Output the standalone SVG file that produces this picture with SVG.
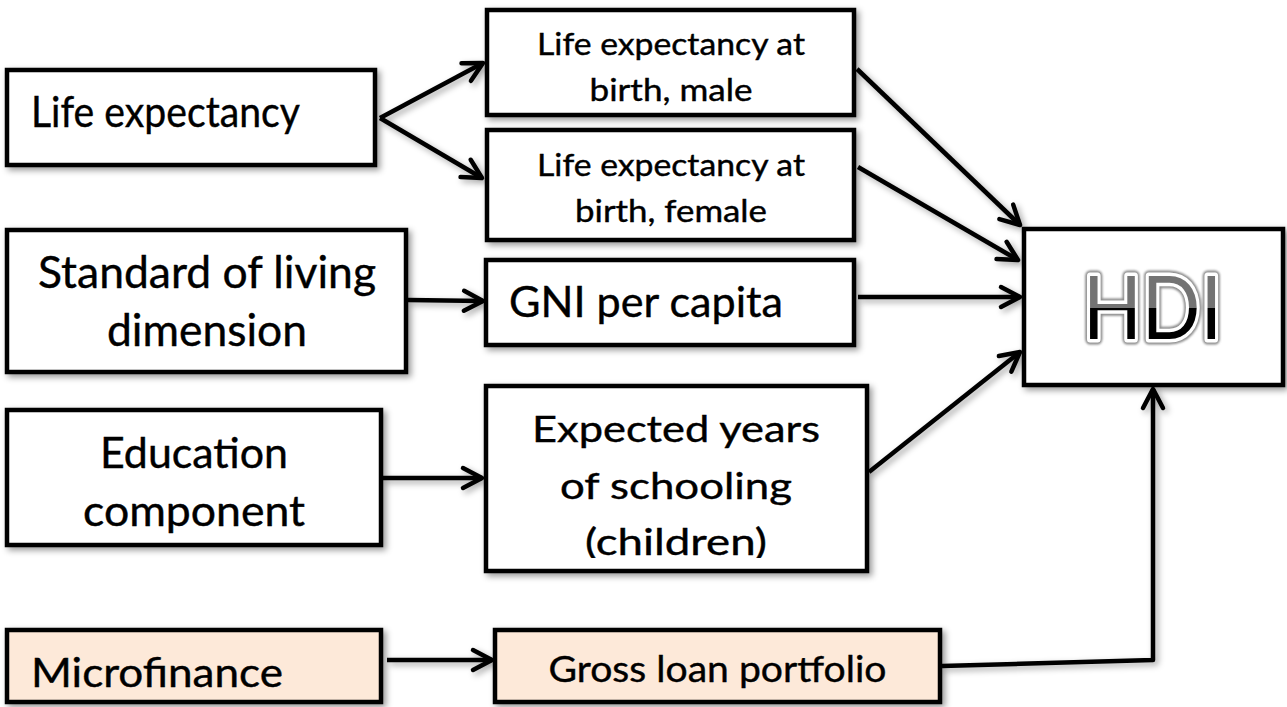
<svg xmlns="http://www.w3.org/2000/svg" width="1287" height="707" viewBox="0 0 1287 707">
<defs>
<style>
.box{fill:#fff;stroke:#000;stroke-width:4.5;filter:url(#sh)}
.peach{fill:#fde9d9}
.t{font-family:Lato,"Liberation Sans",sans-serif;fill:#000;stroke:#000;stroke-width:0.4}
.c{text-anchor:middle}
.conn path{fill:none;stroke:#000;stroke-width:4.5;stroke-linejoin:round;marker-end:url(#arr)}
</style>
<filter id="sh" x="-20%" y="-20%" width="140%" height="140%">
<feDropShadow dx="3" dy="3" stdDeviation="3" flood-color="#000" flood-opacity="0.4"/>
</filter>
<filter id="shl" filterUnits="userSpaceOnUse" x="0" y="0" width="1287" height="707">
<feDropShadow dx="3" dy="3" stdDeviation="3" flood-color="#000" flood-opacity="0.35"/>
</filter>
<filter id="glow" filterUnits="userSpaceOnUse" x="1000" y="240" width="287" height="130">
<feGaussianBlur stdDeviation="0.8"/>
</filter>
<marker id="arr" markerUnits="userSpaceOnUse" markerWidth="30" markerHeight="30" refX="0" refY="0" orient="auto" overflow="visible">
<path d="M-19 -10 L0 0 L-19 10" fill="none" stroke="#000" stroke-width="4.5" stroke-linecap="round" stroke-linejoin="round"/>
</marker>
<linearGradient id="hdig" gradientUnits="userSpaceOnUse" x1="0" y1="276" x2="0" y2="339">
<stop offset="0" stop-color="#737373"/>
<stop offset="0.5" stop-color="#737373"/>
<stop offset="0.5" stop-color="#000"/>
<stop offset="1" stop-color="#000"/>
</linearGradient>
<clipPath id="expclip"><rect x="486" y="386" width="381" height="172"/></clipPath>
</defs>

<g class="conn" id="connectors" filter="url(#shl)">
<path d="M380 118 L483 63"/>
<path d="M380 118 L482 178"/>
<path d="M408 300 L483 301"/>
<path d="M857 69 L1020 225"/>
<path d="M858 167 L1018 260"/>
<path d="M858 297 L1020 297"/>
<path d="M869 472 L1020 352"/>
<path d="M383 478 L482 478"/>
<path d="M387 660 L492 660"/>
<path d="M942 666 L1153 660 L1153 389"/>
</g>

<g id="life-expectancy">
<rect class="box" x="7" y="70" width="368" height="95"/>
<text class="t" x="31" y="127" font-size="43" textLength="269" lengthAdjust="spacingAndGlyphs">Life expectancy</text>
</g>

<g id="life-male">
<rect class="box" x="487" y="10" width="367" height="105"/>
<text class="t c" x="671" y="55" font-size="30" textLength="268" lengthAdjust="spacingAndGlyphs">Life expectancy at</text>
<text class="t c" x="671" y="101" font-size="30" textLength="163" lengthAdjust="spacingAndGlyphs">birth, male</text>
</g>

<g id="life-female">
<rect class="box" x="487" y="130" width="367" height="110"/>
<text class="t c" x="671" y="176" font-size="30" textLength="268" lengthAdjust="spacingAndGlyphs">Life expectancy at</text>
<text class="t c" x="671" y="222" font-size="30" textLength="192" lengthAdjust="spacingAndGlyphs">birth, female</text>
</g>

<g id="standard-of-living">
<rect class="box" x="7" y="230" width="399" height="142"/>
<text class="t c" x="207" y="288" font-size="44" textLength="338" lengthAdjust="spacingAndGlyphs">Standard of living</text>
<text class="t c" x="207" y="346" font-size="44" textLength="200" lengthAdjust="spacingAndGlyphs">dimension</text>
</g>

<g id="gni">
<rect class="box" x="486" y="260" width="368" height="85"/>
<text class="t" x="509" y="317" font-size="43" textLength="274" lengthAdjust="spacingAndGlyphs">GNI per capita</text>
</g>

<g id="education">
<rect class="box" x="7" y="410" width="374" height="135"/>
<text class="t c" x="194" y="468" font-size="42" textLength="188" lengthAdjust="spacingAndGlyphs">Education</text>
<text class="t c" x="194" y="526" font-size="42" textLength="222" lengthAdjust="spacingAndGlyphs">component</text>
</g>

<g id="expected-years">
<rect class="box" x="486" y="386" width="381" height="185"/>
<g clip-path="url(#expclip)">
<text class="t c" x="676" y="442" font-size="37" textLength="288" lengthAdjust="spacingAndGlyphs">Expected years</text>
<text class="t c" x="676" y="499" font-size="37" textLength="232" lengthAdjust="spacingAndGlyphs">of schooling</text>
<text class="t c" x="676" y="555" font-size="37" textLength="182" lengthAdjust="spacingAndGlyphs">(children)</text>
</g>
</g>

<g id="hdi">
<rect class="box" x="1024" y="229" width="259" height="156"/>
<text x="1152.5" y="339" font-family="Lato, 'Liberation Sans', sans-serif" font-size="88" text-anchor="middle" textLength="139" lengthAdjust="spacingAndGlyphs" fill="#8a8a8a" stroke="#8a8a8a" stroke-width="11" stroke-linejoin="round" filter="url(#glow)">HDI</text>
<text x="1152.5" y="339" font-family="Lato, 'Liberation Sans', sans-serif" font-size="88" text-anchor="middle" textLength="139" lengthAdjust="spacingAndGlyphs" fill="url(#hdig)" stroke="#fff" stroke-width="7" stroke-linejoin="round" paint-order="stroke">HDI</text>
</g>

<g id="microfinance">
<rect class="box peach" x="7" y="630" width="374" height="72"/>
<text class="t" x="31" y="687" font-size="40" textLength="252" lengthAdjust="spacingAndGlyphs">Microfinance</text>
</g>

<g id="gross-loan">
<rect class="box peach" x="495" y="630" width="445" height="72"/>
<text class="t c" x="717.5" y="682" font-size="37" textLength="338" lengthAdjust="spacingAndGlyphs">Gross loan portfolio</text>
</g>
</svg>
